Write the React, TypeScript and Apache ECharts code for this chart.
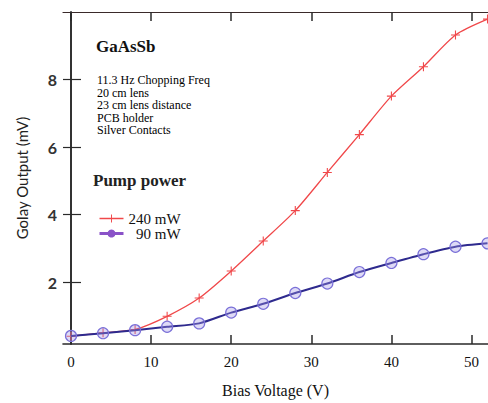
import React, { useEffect, useRef } from "react";
import * as echarts from "echarts";

const biasVoltage = [0, 4, 8, 12, 16, 20, 24, 28, 32, 36, 40, 44, 48, 52];
const output240 = [0.4, 0.5, 0.6, 0.99, 1.53, 2.33, 3.22, 4.12, 5.25, 6.37, 7.51, 8.38, 9.32, 9.79];
const output90 = [0.41, 0.49, 0.58, 0.68, 0.78, 1.1, 1.36, 1.68, 1.96, 2.3, 2.57, 2.83, 3.05, 3.15];
const xTicks = [0, 10, 20, 30, 40, 50];
const yTicks = [2, 4, 6, 8];
const notes = ["11.3 Hz Chopping Freq", "20 cm lens", "23 cm lens distance", "PCB holder", "Silver Contacts"];

const SERIF = "'Liberation Serif', 'Times New Roman', serif";
const SANS = "Lato, 'Open Sans', sans-serif";

export default function App() {
  const ref = useRef<HTMLDivElement>(null);
  useEffect(() => {
    document.body.style.margin = "0";
    const chart = echarts.init(ref.current!, null, { renderer: "svg" });
    const plusPath = "path://M4.4,0H5.6V4.4H10V5.6H5.6V10H4.4V5.6H0V4.4H4.4Z";
    const axisCommon = {
      type: "value" as const,
      axisLine: { show: true, lineStyle: { color: "#2a2a2a", width: 1.6 } },
      splitLine: { show: false },
    };
    chart.setOption({
      animation: false,
      backgroundColor: "#fff",
      grid: { left: 63, right: 0, top: 12, bottom: 52 },
      xAxis: [
        {
          ...axisCommon,
          min: -1,
          max: 52.06,
          position: "bottom",
          name: "Bias Voltage (V)",
          nameLocation: "middle",
          nameGap: 38,
          nameTextStyle: { fontFamily: SERIF, fontSize: 16, color: "#111" },
          axisTick: { inside: true, length: 9, customValues: xTicks, lineStyle: { color: "#2a2a2a", width: 1.5 } },
          axisLabel: { customValues: xTicks, margin: 10, fontFamily: SERIF, fontSize: 15, color: "#111" },
        },
        {
          ...axisCommon,
          min: -1,
          max: 52.06,
          position: "top",
          axisLine: { show: true, lineStyle: { color: "#3a2a2a", width: 1.2 } },
          axisTick: { inside: true, length: 9, customValues: xTicks, lineStyle: { color: "#2a2a2a", width: 1.5 } },
          axisLabel: { show: false },
        },
      ],
      yAxis: [
        {
          ...axisCommon,
          min: 0.17,
          max: 10,
          position: "left",
          name: "Golay Output (mV)",
          nameLocation: "middle",
          nameGap: 34,
          nameTextStyle: { fontFamily: SANS, fontSize: 15, color: "#222" },
          axisTick: { inside: true, length: 10, customValues: yTicks, lineStyle: { color: "#2a2a2a", width: 1.2 } },
          axisLabel: { customValues: yTicks, margin: 6, fontFamily: SANS, fontSize: 16, fontWeight: "bold", color: "#333" },
        },
        {
          ...axisCommon,
          min: 0.17,
          max: 10,
          position: "right",
          axisTick: { inside: true, length: 8, customValues: yTicks, lineStyle: { color: "#2a2a2a", width: 1.2 } },
          axisLabel: { show: false },
        },
      ],
      legend: {
        orient: "vertical",
        left: 93,
        top: 206,
        itemWidth: 24,
        itemHeight: 10,
        itemGap: 0,
        textStyle: { fontFamily: SERIF, fontSize: 15, lineHeight: 15, color: "#111" },
        formatter: (name: string) => (name === "90 mW" ? "\u00a0\u00a090 mW" : name),
        data: [
          { name: "240 mW", itemStyle: { color: "#f0484a" }, lineStyle: { color: "#f0484a", width: 1.5 } },
          { name: "90 mW", itemStyle: { color: "#8a52c8", borderColor: "#8a52c8", borderWidth: 0 }, lineStyle: { color: "#8a52c8", width: 3 } },
        ],
      },
      series: [
        {
          name: "240 mW",
          type: "line",
          data: biasVoltage.map((x, i) => [x, output240[i]]),
          smooth: 0.25,
          symbol: plusPath,
          symbolSize: 9,
          lineStyle: { color: "#f0484a", width: 1.3 },
          itemStyle: { color: "#f0484a" },
          z: 2,
        },
        {
          name: "90 mW",
          type: "line",
          data: biasVoltage.map((x, i) => [x, output90[i]]),
          smooth: 0.25,
          symbol: "circle",
          symbolSize: 11,
          lineStyle: { color: "#2e2a8e", width: 2 },
          itemStyle: { color: "rgba(160,150,230,0.35)", borderColor: "#7a70d8", borderWidth: 1.2 },
          z: 3,
        },
      ],
      graphic: [
        { type: "text", left: 96, top: 38, style: { text: "GaAsSb", font: `bold 17px ${SERIF}`, fill: "#111" } },
        ...notes.map((t, i) => ({
          type: "text",
          left: 97,
          top: 74 + i * 12.5,
          style: { text: t, font: `12px ${SERIF}`, fill: "#000" },
        })),
        { type: "text", left: 93, top: 172, style: { text: "Pump power", font: `bold 17px ${SERIF}`, fill: "#222" } },
      ],
    });
    return () => chart.dispose();
  }, []);
  return <div ref={ref} style={{ width: 488, height: 403 }} />;
}
